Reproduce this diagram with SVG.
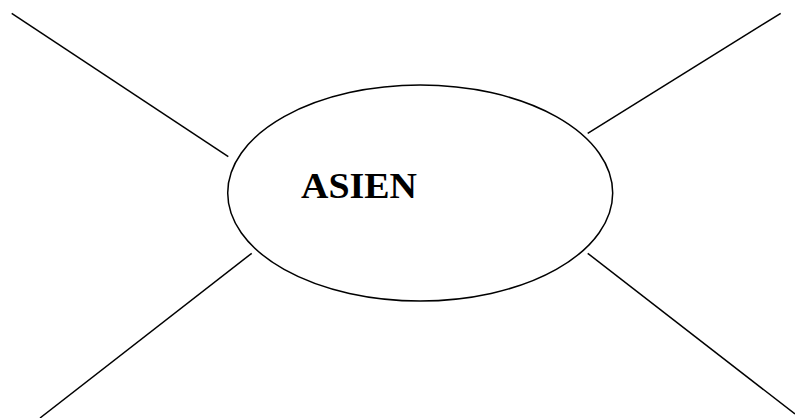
<svg xmlns="http://www.w3.org/2000/svg" width="795" height="418" viewBox="0 0 795 418">
  <style>
    .ln { stroke: #000; stroke-width: 1.5; fill: none; }
    .lbl { font-family: "Liberation Serif", "DejaVu Serif", serif; font-weight: bold; font-size: 36px; fill: #000; }
  </style>
  <rect width="795" height="418" fill="#fff"/>
  <g id="connectors">
    <line class="ln" x1="11.7" y1="13.3" x2="228.3" y2="156.7"/>
    <line class="ln" x1="587.7" y1="133.3" x2="780.7" y2="13.3"/>
    <line class="ln" x1="251.7" y1="253.3" x2="40" y2="418"/>
    <line class="ln" x1="587.7" y1="253.3" x2="795" y2="414"/>
  </g>
  <g id="asien">
    <ellipse class="ln" cx="420.2" cy="193" rx="192.5" ry="108"/>
    <text class="lbl" x="301" y="198" textLength="116" lengthAdjust="spacingAndGlyphs">ASIEN</text>
  </g>
</svg>
